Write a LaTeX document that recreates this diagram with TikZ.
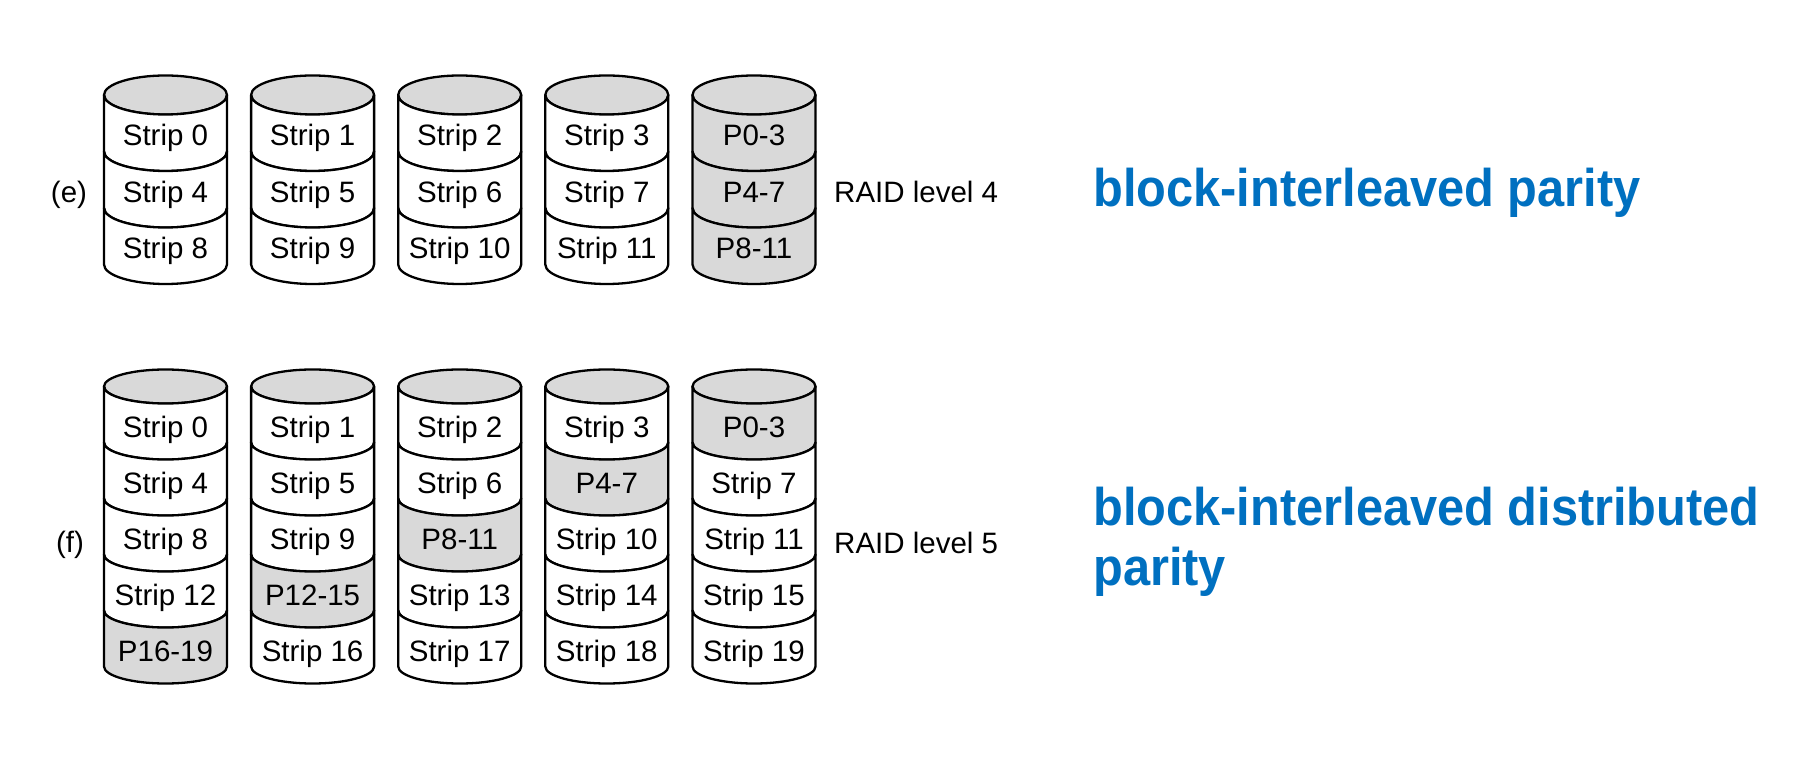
\documentclass[tikz,border=0pt]{standalone}
\usepackage{fontspec}
\setmainfont{Liberation Sans}
\usepackage{graphicx}
\definecolor{par}{HTML}{D9D9D9}
\definecolor{plain}{HTML}{FFFFFF}
\definecolor{topgray}{HTML}{D9D9D9}
\definecolor{titleblue}{HTML}{0070C0}
\tikzset{
  cylline/.style={draw=black, line width=2.3pt, line join=round},
  lbl/.style={inner sep=0pt, font=\fontsize{29.5}{34}\selectfont},
  bluetxt/.style={inner sep=0pt, anchor=base west, text=titleblue, font=\fontsize{53}{64}\selectfont\bfseries},
}
\newcommand{\disk}[6]{%
  \filldraw[cylline, fill=topgray] (#2, 758-#3) ellipse[x radius=61.5pt, y radius=#5pt];
  \foreach \lab/\f [count=\r] in {#6} {
    \pgfmathsetmacro{\yt}{758-#3-(\r-1)*#4}
    \filldraw[cylline, fill=\f] (#2-61.5, \yt) arc[start angle=180, end angle=360, x radius=61.5pt, y radius=#5pt]
      -- (#2+61.5, \yt-#4) arc[start angle=0, end angle=-180, x radius=61.5pt, y radius=#5pt] -- cycle;
    \node[lbl, anchor=base] (#1-\r) at (#2, \yt-51) {\lab};
  }
}
\begin{document}
\begin{tikzpicture}[x=1pt, y=1pt]
\useasboundingbox[fill=white] (0,0) rectangle (1818,758);
% RAID level 4
\disk{ea}{165.5}{95}{56.5}{19.5}{Strip 0/plain,Strip 4/plain,Strip 8/plain}
\disk{eb}{312.6}{95}{56.5}{19.5}{Strip 1/plain,Strip 5/plain,Strip 9/plain}
\disk{ec}{459.7}{95}{56.5}{19.5}{Strip 2/plain,Strip 6/plain,Strip 10/plain}
\disk{ed}{606.8}{95}{56.5}{19.5}{Strip 3/plain,Strip 7/plain,Strip 11/plain}
\disk{ee}{754}{95}{56.5}{19.5}{P0-3/par,P4-7/par,P8-11/par}
\node[lbl] (le) at (69, 758-195) {(e)};
\node[lbl, anchor=base west] (r4) at (834, 758-203) {RAID level 4};
\node[bluetxt] (t4) at (1093, 758-207) {\scalebox{0.92}[1]{block-interleaved parity}};
% RAID level 5
\disk{fa}{165.5}{386.5}{56}{17}{Strip 0/plain,Strip 4/plain,Strip 8/plain,Strip 12/plain,P16-19/par}
\disk{fb}{312.6}{386.5}{56}{17}{Strip 1/plain,Strip 5/plain,Strip 9/plain,P12-15/par,Strip 16/plain}
\disk{fc}{459.7}{386.5}{56}{17}{Strip 2/plain,Strip 6/plain,P8-11/par,Strip 13/plain,Strip 17/plain}
\disk{fd}{606.8}{386.5}{56}{17}{Strip 3/plain,P4-7/par,Strip 10/plain,Strip 14/plain,Strip 18/plain}
\disk{fe}{754}{386.5}{56}{17}{P0-3/par,Strip 7/plain,Strip 11/plain,Strip 15/plain,Strip 19/plain}
\node[lbl] (lf) at (70, 758-545) {(f)};
\node[lbl, anchor=base west] (r5) at (834, 758-554) {RAID level 5};
\node[bluetxt] (t5a) at (1093, 758-526) {\scalebox{0.92}[1]{block-interleaved distributed}};
\node[bluetxt] (t5b) at (1093, 758-586) {\scalebox{0.92}[1]{parity}};
\end{tikzpicture}
\end{document}
